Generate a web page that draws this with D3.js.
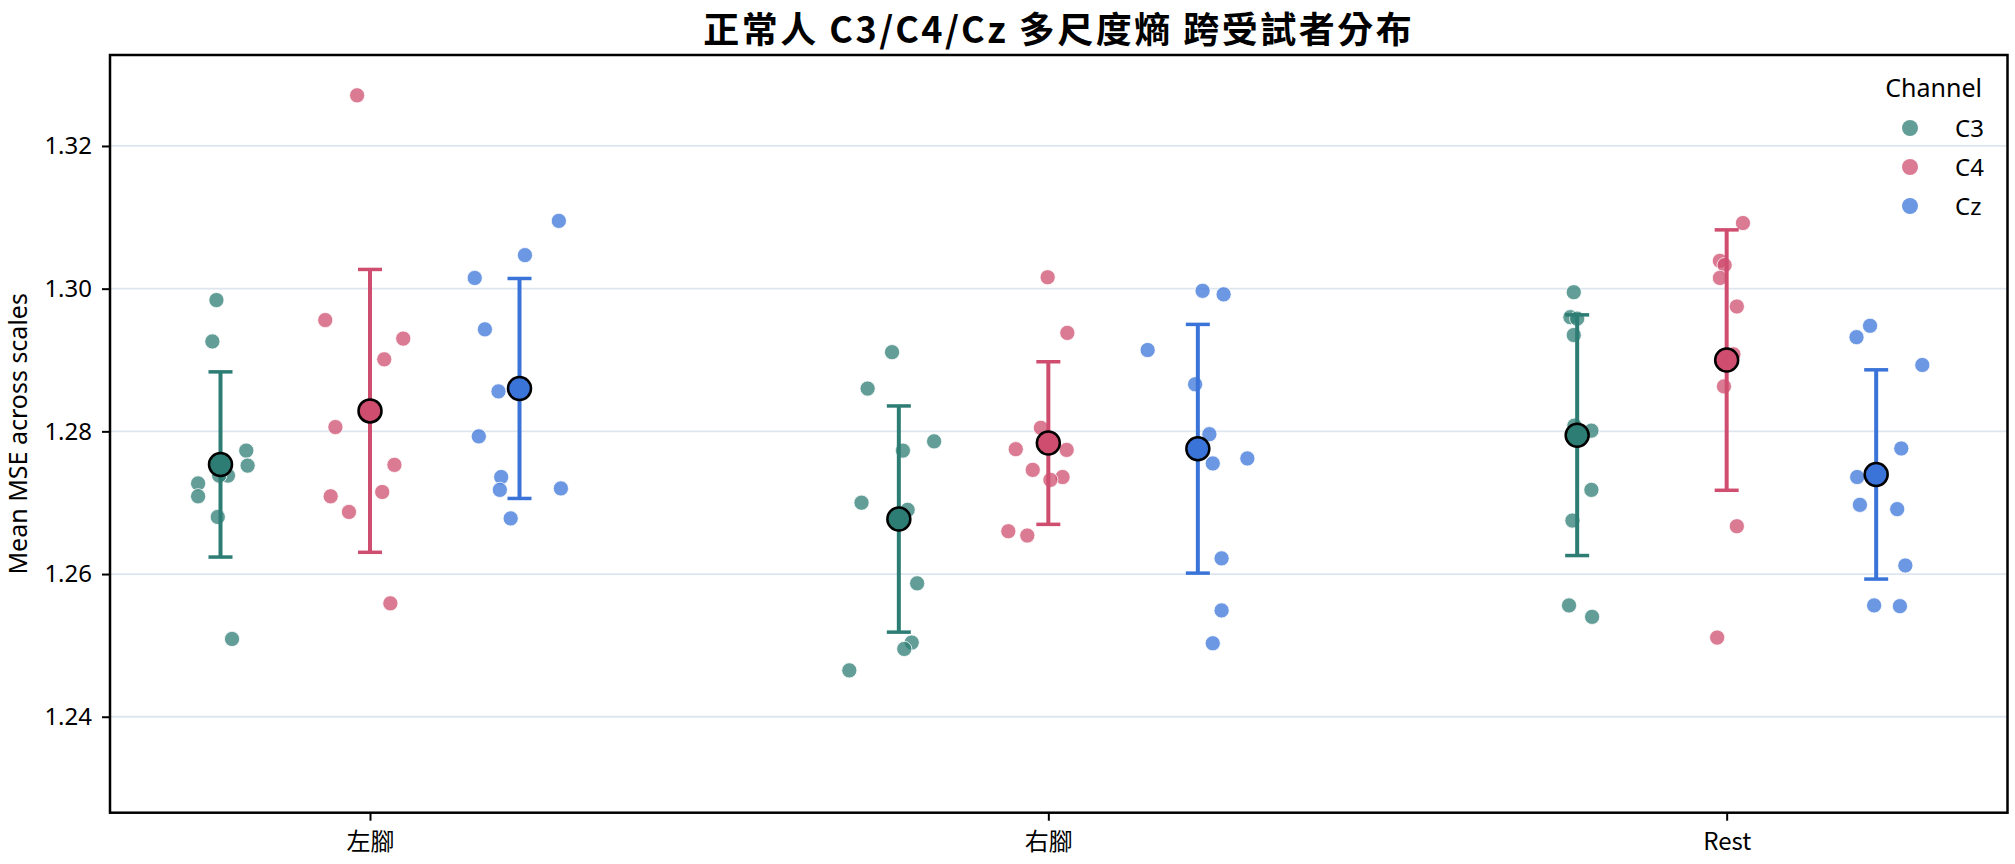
<!DOCTYPE html>
<html lang="zh-Hant">
<head>
<meta charset="UTF-8">
<title>正常人 C3/C4/Cz 多尺度熵</title>
<style>
  body { margin: 0; background: #fff; }
  text { font-family: "Noto Sans", "Noto Sans CJK TC", sans-serif; fill: #000; }
  .cjk { font-family: "Noto Sans CJK TC", "Noto Sans", sans-serif; }
</style>
</head>
<body>
<div id="container"></div>
<script src="https://cdn.jsdelivr.net/npm/d3@7"></script>
<script>
// categories and hue levels
var conditions = ["左腳", "右腳", "Rest"];
var channels = ["C3", "C4", "Cz"];
var yTicks = [1.24, 1.26, 1.28, 1.30, 1.32];

// per-subject mean MSE, one inner array per condition (左腳, 右腳, Rest)
var c3Values = [
    [1.2984, 1.2926, 1.2773, 1.2752, 1.2738, 1.2738, 1.2727, 1.2709, 1.2680, 1.2509],
    [1.2911, 1.2860, 1.2786, 1.2773, 1.2700, 1.2690, 1.2587, 1.2504, 1.2495, 1.2465],
    [1.2995, 1.2960, 1.2958, 1.2935, 1.2801, 1.2808, 1.2718, 1.2675, 1.2556, 1.2540]
];
var c4Values = [
    [1.3271, 1.2956, 1.2930, 1.2901, 1.2806, 1.2753, 1.2715, 1.2709, 1.2687, 1.2559],
    [1.3016, 1.2938, 1.2805, 1.2775, 1.2774, 1.2746, 1.2736, 1.2732, 1.2660, 1.2654],
    [1.3092, 1.3039, 1.3033, 1.3015, 1.2975, 1.2908, 1.2896, 1.2863, 1.2667, 1.2511]
];
var czValues = [
    [1.3095, 1.3047, 1.3015, 1.2943, 1.2856, 1.2793, 1.2736, 1.2718, 1.2720, 1.2678],
    [1.2997, 1.2992, 1.2914, 1.2866, 1.2796, 1.2755, 1.2762, 1.2622, 1.2549, 1.2503],
    [1.2948, 1.2932, 1.2893, 1.2776, 1.2736, 1.2697, 1.2691, 1.2612, 1.2556, 1.2555]
];

// strip jitter of each subject, in category units
var c3Jitter = [
    [-0.006, -0.012, 0.038, 0.040, 0.011, -0.002, -0.033, -0.033, -0.004, 0.017],
    [-0.010, -0.046, 0.052, 0.006, -0.055, 0.013, 0.027, 0.019, 0.008, -0.073],
    [-0.005, -0.010, 0.000, -0.005, 0.021, -0.004, 0.021, -0.007, -0.012, 0.022]
];
var c4Jitter = [
    [-0.019, -0.066, 0.049, 0.021, -0.051, 0.036, 0.018, -0.058, -0.031, 0.030],
    [-0.001, 0.028, -0.011, -0.048, 0.027, -0.023, 0.021, 0.003, -0.059, -0.031],
    [0.024, -0.010, -0.003, -0.010, 0.015, 0.010, 0.000, -0.004, 0.015, -0.014]
];
var czJitter = [
    [0.058, 0.008, -0.066, -0.051, -0.031, -0.060, -0.027, -0.029, 0.061, -0.013],
    [0.007, 0.038, -0.074, -0.004, 0.017, 0.022, 0.073, 0.035, 0.035, 0.022],
    [-0.009, -0.029, 0.068, 0.037, -0.028, -0.024, 0.031, 0.043, -0.003, 0.035]
];

var width = 2015, height = 864;
var margin = { top: 55, right: 7.5, bottom: 51.3, left: 110 };
var colors = { C3: "#2d7d74", C4: "#cf4d6f", Cz: "#3b74d9" };
var dodge = { C3: -0.2204, C4: 0, Cz: 0.2204 };

var valuesBy = { C3: c3Values, C4: c4Values, Cz: czValues };
var jitterBy = { C3: c3Jitter, C4: c4Jitter, Cz: czJitter };

var svg = d3.select("#container")
    .append("svg")
    .attr("width", width)
    .attr("height", height);

var x = d3.scaleLinear()
    .domain([-0.3833, 2.414])
    .range([margin.left, width - margin.right]);

var y = d3.scaleLinear()
    .domain([1.22655, 1.33275])
    .range([height - margin.bottom, margin.top]);

// horizontal grid
svg.append("g")
    .selectAll("line")
    .data(yTicks)
    .enter()
    .append("line")
    .attr("x1", margin.left)
    .attr("x2", width - margin.right)
    .attr("y1", function(d) { return y(d); })
    .attr("y2", function(d) { return y(d); })
    .attr("stroke", "#dde6ef")
    .attr("stroke-width", 1.8);

// strip points
var points = [];
var stats = [];
conditions.forEach(function(cond, i) {
    channels.forEach(function(ch) {
        var vals = valuesBy[ch][i];
        vals.forEach(function(v, k) {
            points.push({ ch: ch, pos: i + dodge[ch] + jitterBy[ch][i][k], value: v });
        });
        var m = d3.mean(vals), sd = d3.deviation(vals);
        stats.push({ ch: ch, pos: i + dodge[ch], mean: m, lo: m - sd, hi: m + sd });
    });
});

svg.append("g")
    .selectAll("circle")
    .data(points)
    .enter()
    .append("circle")
    .attr("cx", function(d) { return x(d.pos); })
    .attr("cy", function(d) { return y(d.value); })
    .attr("r", 7.6)
    .attr("fill", function(d) { return colors[d.ch]; })
    .attr("fill-opacity", 0.75)
    .attr("stroke", "#fff")
    .attr("stroke-width", 0.8);

// error bars (mean ± sd)
var bars = svg.append("g");
bars.selectAll("line.stem")
    .data(stats)
    .enter()
    .append("line")
    .attr("class", "stem")
    .attr("x1", function(d) { return x(d.pos); })
    .attr("x2", function(d) { return x(d.pos); })
    .attr("y1", function(d) { return y(d.lo); })
    .attr("y2", function(d) { return y(d.hi); })
    .attr("stroke", function(d) { return colors[d.ch]; })
    .attr("stroke-width", 4);

["lo", "hi"].forEach(function(key) {
    bars.selectAll("line.cap-" + key)
        .data(stats)
        .enter()
        .append("line")
        .attr("class", "cap-" + key)
        .attr("x1", function(d) { return x(d.pos) - 12; })
        .attr("x2", function(d) { return x(d.pos) + 12; })
        .attr("y1", function(d) { return y(d[key]); })
        .attr("y2", function(d) { return y(d[key]); })
        .attr("stroke", function(d) { return colors[d.ch]; })
        .attr("stroke-width", 3.5);
});

// mean markers
svg.append("g")
    .selectAll("circle")
    .data(stats)
    .enter()
    .append("circle")
    .attr("cx", function(d) { return x(d.pos); })
    .attr("cy", function(d) { return y(d.mean); })
    .attr("r", 11.5)
    .attr("fill", function(d) { return colors[d.ch]; })
    .attr("stroke", "#000")
    .attr("stroke-width", 2.5);

// axes
var yAxis = svg.append("g")
    .attr("transform", "translate(" + margin.left + ",0)")
    .call(d3.axisLeft(y).tickValues(yTicks).tickFormat(d3.format(".2f")).tickSize(8).tickPadding(10));
yAxis.select(".domain").remove();
yAxis.selectAll("text").attr("font-size", 24).attr("fill", "#000");
yAxis.selectAll("line").attr("stroke", "#000").attr("stroke-width", 2);

var xAxis = svg.append("g")
    .attr("transform", "translate(0," + (height - margin.bottom) + ")")
    .call(d3.axisBottom(x).tickValues([0, 1, 2]).tickFormat(function(d) { return conditions[d]; }).tickSize(8).tickPadding(12));
xAxis.select(".domain").remove();
xAxis.selectAll("text").attr("class", "cjk").attr("font-size", 24).attr("fill", "#000");
xAxis.selectAll("line").attr("stroke", "#000").attr("stroke-width", 2);

// frame
svg.append("rect")
    .attr("x", margin.left)
    .attr("y", margin.top)
    .attr("width", width - margin.left - margin.right)
    .attr("height", height - margin.top - margin.bottom)
    .attr("fill", "none")
    .attr("stroke", "#000")
    .attr("stroke-width", 2.5);

// title and y label
svg.append("text")
    .attr("class", "cjk")
    .attr("x", (margin.left + width - margin.right) / 2)
    .attr("y", 43)
    .attr("text-anchor", "middle")
    .attr("font-size", 36)
    .attr("font-weight", "bold")
    .attr("letter-spacing", 2.5)
    .text("正常人 C3/C4/Cz 多尺度熵 跨受試者分布");

svg.append("text")
    .attr("transform", "translate(27," + ((margin.top + height - margin.bottom) / 2) + ") rotate(-90)")
    .attr("text-anchor", "middle")
    .attr("font-size", 25)
    .text("Mean MSE across scales");

// legend
var legend = svg.append("g");
legend.append("text")
    .attr("x", 1982)
    .attr("y", 97)
    .attr("text-anchor", "end")
    .attr("font-size", 25)
    .text("Channel");

var items = legend.selectAll("g.item")
    .data(channels)
    .enter()
    .append("g")
    .attr("class", "item")
    .attr("transform", function(d, i) { return "translate(0," + (128 + i * 39) + ")"; });
items.append("circle")
    .attr("cx", 1910)
    .attr("cy", 0)
    .attr("r", 8)
    .attr("fill", function(d) { return colors[d]; })
    .attr("fill-opacity", 0.75);
items.append("text")
    .attr("x", 1955)
    .attr("y", 8.5)
    .attr("font-size", 24)
    .text(function(d) { return d; });
</script>
</body>
</html>
